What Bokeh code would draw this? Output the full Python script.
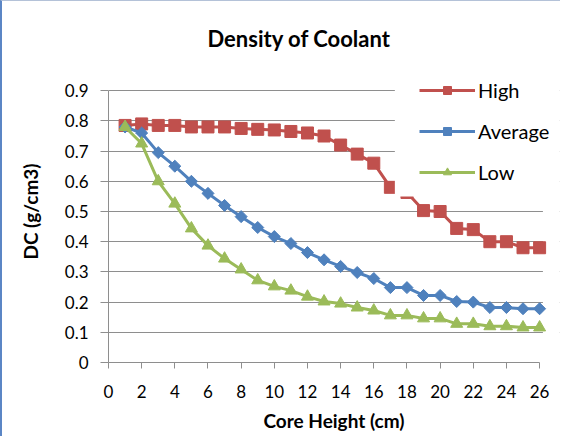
from bokeh.plotting import figure
from bokeh.models import (Range1d, FixedTicker, NumeralTickFormatter, Legend,
                          LegendItem, BoxAnnotation, Title)
from bokeh.embed import file_html
from bokeh.resources import INLINE

# ---- data ----
core_height = list(range(1, 27))
high = [0.785, 0.79, 0.785, 0.785, 0.78, 0.78, 0.78, 0.775, 0.772, 0.77,
        0.765, 0.76, 0.75, 0.72, 0.69, 0.66, 0.58, 0.563, 0.503, 0.50,
        0.444, 0.44, 0.40, 0.40, 0.38, 0.38]
average = [0.78, 0.76, 0.695, 0.65, 0.60, 0.56, 0.52, 0.483, 0.447, 0.417,
           0.394, 0.364, 0.34, 0.318, 0.298, 0.278, 0.248, 0.248, 0.222, 0.222,
           0.202, 0.20, 0.182, 0.182, 0.178, 0.178]
low = [0.78, 0.725, 0.60, 0.526, 0.444, 0.387, 0.344, 0.308, 0.272, 0.252,
       0.238, 0.218, 0.202, 0.195, 0.182, 0.172, 0.156, 0.156, 0.146, 0.146,
       0.128, 0.128, 0.12, 0.12, 0.116, 0.116]
series_names = ["High", "Average", "Low"]
x_ticks = list(range(0, 27, 2))
y_ticks = [0, 0.1, 0.2, 0.3, 0.4, 0.5, 0.6, 0.7, 0.8, 0.9]

FONT = "Lato"
GRID = "#8e8e8e"

p = figure(width=560, height=436, output_backend="svg", toolbar_location=None,
           x_range=Range1d(0, 27.2), y_range=Range1d(0, 1.0),
           min_border_left=106, min_border_right=3, min_border_top=59,
           min_border_bottom=75)
p.styles = {"border-left": "2px solid #5b86c5", "border-top": "1px solid #b4c2d8"}
p.outline_line_color = None
p.background_fill_color = "white"
p.border_fill_color = "white"

p.title = Title(text="Density of Coolant", align="left", offset=99,
                text_font=FONT, text_font_size="22px", text_font_style="bold",
                text_color="black", standoff=17)

p.xgrid.visible = False
p.ygrid.grid_line_color = GRID
p.ygrid.grid_line_width = 1
p.ygrid.ticker = FixedTicker(ticks=y_ticks)

# axes
p.xaxis.ticker = FixedTicker(ticks=x_ticks)
p.xaxis.bounds = (0, 26)
p.yaxis.ticker = FixedTicker(ticks=y_ticks)
p.yaxis.bounds = (0, 0.9)
p.yaxis.formatter = NumeralTickFormatter(format="0.[0]")
for ax in (p.xaxis, p.yaxis):
    ax.axis_line_color = GRID
    ax.major_tick_line_color = GRID
    ax.minor_tick_line_color = None
    ax.major_tick_in = 0
    ax.major_label_text_font = FONT
    ax.major_label_text_font_size = "17px"
    ax.major_label_text_color = "black"
    ax.axis_label_text_font = FONT
    ax.axis_label_text_font_style = "bold"
    ax.axis_label_text_font_size = "19px"
    ax.axis_label_text_color = "black"
p.xaxis.major_tick_out = 6
p.xaxis.major_label_standoff = 16
p.xaxis.axis_label = "Core Height (cm)"
p.xaxis.axis_label_standoff = 8
p.yaxis.major_tick_out = 8
p.yaxis.major_label_standoff = 12
p.yaxis.axis_label = "DC (g/cm3)"
p.yaxis.axis_label_standoff = 20

# hide gridline stubs beyond last category
p.add_layout(BoxAnnotation(left=26.2, fill_color="white", fill_alpha=1,
                           line_alpha=0, level="underlay"))

colors = ["#C0504D", "#4F81BD", "#9BBB59"]
markers = ["square", "square", "triangle"]
angles = [0, 0.785398, 0]
sizes = [12, 8.5, 12]
items = []
for name, ys, c, m, a, s in zip(series_names, [high, average, low], colors,
                                markers, angles, sizes):
    r1 = p.line(core_height, ys, line_color=c, line_width=3)
    r2 = p.scatter(core_height, ys, marker=m, size=s, angle=a,
                   fill_color=c, line_color=c)
    items.append(LegendItem(label=name, renderers=[r1, r2]))

# white legend area covering the plot
p.add_layout(BoxAnnotation(left=17.27, bottom=0.55, fill_color="white",
                           fill_alpha=1, line_alpha=0, level="guide"))

legend = Legend(items=items, location=(311, 178), margin=0, padding=5,
                spacing=17, glyph_width=56, glyph_height=20, label_height=20,
                label_standoff=3, label_text_font=FONT,
                label_text_font_size="20px", label_text_color="black",
                border_line_color=None, background_fill_alpha=0)
p.add_layout(legend)

open("out.html", "w").write(file_html(p, INLINE))
